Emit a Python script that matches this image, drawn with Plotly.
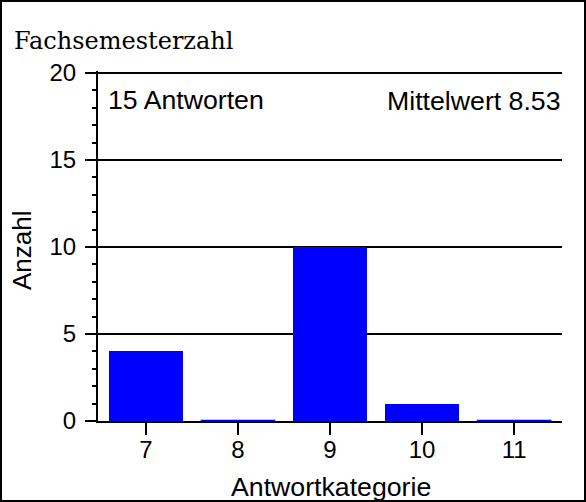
import plotly.graph_objects as go

categories = [7, 8, 9, 10, 11]
counts = [4, 0, 10, 1, 0]
title_text = "Fachsemesterzahl"
x_title = "Antwortkategorie"
y_title = "Anzahl"
y_ticks = [0, 5, 10, 15, 20]

total = sum(counts)
mean = sum(c * v for c, v in zip(categories, counts)) / total

W, H = 586, 502
ml, mr, mt, mb = 98, 24, 71, 81
pw, ph = W - ml - mr, H - mt - mb

def px_x(p):
    return (p - ml) / pw

def px_y(p):
    return (H - mb - p) / ph

bar_w = 0.81
sans = "Liberation Sans, Arial, sans-serif"

fig = go.Figure()
fig.add_trace(go.Bar(x=categories, y=counts, width=bar_w,
                     marker=dict(color="#0000ff", line=dict(width=0)),
                     showlegend=False, hoverinfo="x+y"))

# zero-valued categories are drawn as a flat blue bar outline
zx, zy = [], []
for c, v in zip(categories, counts):
    if v == 0:
        zx += [c - bar_w / 2, c + bar_w / 2, None]
        zy += [v, v, None]
fig.add_trace(go.Scatter(x=zx, y=zy, mode="lines",
                         line=dict(color="#0000ff", width=2.5),
                         showlegend=False, hoverinfo="skip", cliponaxis=False))

fig.update_layout(
    width=W, height=H,
    margin=dict(l=ml, r=mr, t=mt, b=mb),
    paper_bgcolor="white", plot_bgcolor="white",
    font=dict(family=sans, color="black"),
    xaxis=dict(range=[6.48, 11.52], tickvals=categories, ticktext=[str(c) for c in categories],
               showgrid=False, zeroline=False, showline=True, linecolor="black", linewidth=2,
               ticks="outside", ticklen=12, tickwidth=2, tickcolor="black",
               tickfont=dict(size=24, family=sans), layer="below traces",
               ticklabelstandoff=-6),
    yaxis=dict(range=[0, 20.115], tickvals=y_ticks, showgrid=True, gridcolor="black", gridwidth=2,
               zeroline=False, showline=True, linecolor="black", linewidth=2,
               ticks="outside", ticklen=11, tickwidth=2, tickcolor="black",
               tickfont=dict(size=24, family=sans), layer="below traces",
               ticklabelstandoff=4,
               minor=dict(dtick=1, ticks="outside", ticklen=4, tickwidth=1.5,
                          tickcolor="black", showgrid=False)),
    bargap=0,
)

fig.add_annotation(text=title_text, xref="paper", yref="paper",
                   x=px_x(12), y=px_y(41), xanchor="left", yanchor="middle",
                   showarrow=False, font=dict(family="DejaVu Serif, Liberation Serif, serif", size=24))
fig.add_annotation(text=f"{total} Antworten", xref="paper", yref="paper",
                   x=px_x(106), y=px_y(100), xanchor="left", yanchor="middle",
                   showarrow=False, font=dict(size=26.7, family=sans))
fig.add_annotation(text=f"Mittelwert {mean:.2f}", xref="paper", yref="paper",
                   x=px_x(563), y=px_y(101), xanchor="right", yanchor="middle",
                   showarrow=False, font=dict(size=26.7, family=sans))
fig.add_annotation(text=x_title, xref="paper", yref="paper",
                   x=px_x(331), y=px_y(487), xanchor="center", yanchor="middle",
                   showarrow=False, font=dict(size=26.7, family=sans))
fig.add_annotation(text=y_title, xref="paper", yref="paper",
                   x=px_x(22), y=px_y(250), xanchor="center", yanchor="middle",
                   textangle=-90, showarrow=False, font=dict(size=26, family=sans))

fig.add_shape(type="rect", xref="paper", yref="paper",
              x0=px_x(1), x1=px_x(W - 1), y0=px_y(H - 1), y1=px_y(1),
              line=dict(color="black", width=2), fillcolor="rgba(0,0,0,0)", layer="above")

fig.write_html("out.html", config={"displayModeBar": False},
               post_script="document.body.style.margin='0';document.body.style.overflow='hidden';")
